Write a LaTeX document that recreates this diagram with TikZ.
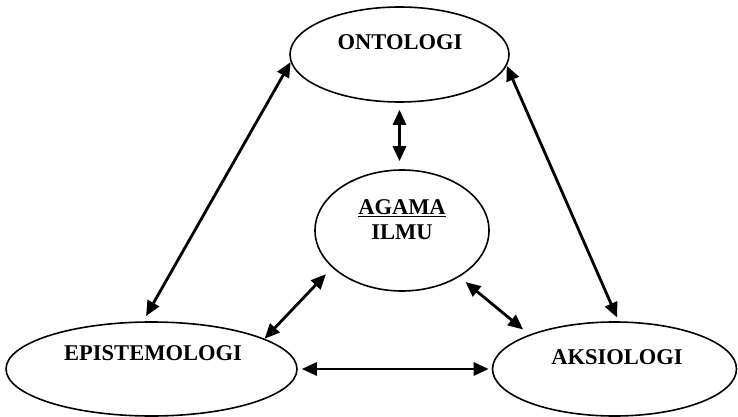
\documentclass[tikz,border=0pt]{standalone}
\usepackage{fontspec}
\setmainfont{Liberation Serif}
\usetikzlibrary{shapes.geometric,arrows.meta}
\tikzset{
  aspek/.style={draw, ellipse, line width=1.6pt, inner sep=0pt},
  judul/.style={font=\bfseries\fontsize{22.5}{25}\selectfont, align=center},
  panah/.style={{Triangle[length=15pt,width=13pt]}-{Triangle[length=15pt,width=13pt]}, line width=2.8pt}
}
\begin{document}
\begin{tikzpicture}[x=1pt, y=-1pt]
\useasboundingbox (0,0) rectangle (738,417);
% ellipses
\node[aspek, minimum width=219pt, minimum height=95pt] (onto) at (399.5,54.5) {};
\node[aspek, minimum width=174pt, minimum height=121pt] (agama) at (402,230.5) {};
\node[aspek, minimum width=291pt, minimum height=94pt] (epis) at (151.5,369) {};
\node[aspek, minimum width=244pt, minimum height=94pt] (aksio) at (614.5,369) {};
% texts
\node[judul] (onto-teks) at (400,42) {ONTOLOGI};
\node[judul] (agama-teks) at (402,220) {\underline{AGAMA}\\ILMU};
\node[judul] (epis-teks) at (153,353) {EPISTEMOLOGI};
\node[judul] (aksio-teks) at (617,357) {AKSIOLOGI};
% arrows
\draw[panah, shorten >=6pt] (onto.184) -- (epis.100);
\draw[panah, shorten >=4pt] (onto.354) -- (aksio.85);
\draw[panah, shorten <=7pt, shorten >=8pt] (onto.south) -- (onto.south |- agama.north);
\draw[panah, shorten <=9pt] (agama.208) -- (epis.15);
\draw[panah, shorten <=8pt, shorten >=8pt] (agama.321) -- (aksio.158);
\draw[panah, shorten <=4pt, shorten >=3pt] (epis.east) -- (aksio.west);
\end{tikzpicture}
\end{document}
